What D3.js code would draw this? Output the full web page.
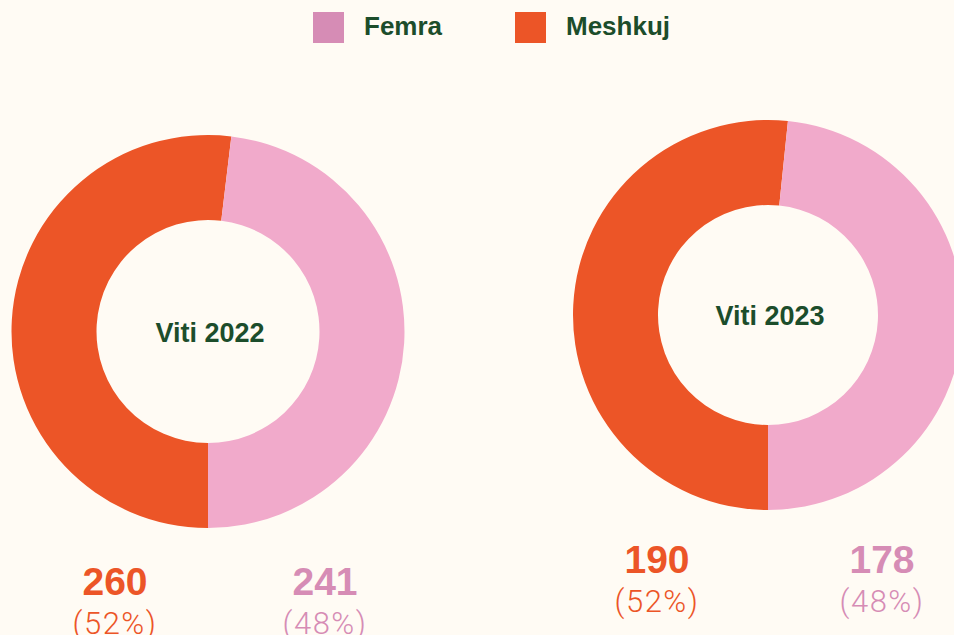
<!DOCTYPE html>
<html>
<head>
<meta charset="utf-8">
<script src="https://cdn.jsdelivr.net/npm/d3@7"></script>
<style>
  html, body { margin: 0; padding: 0; background: #fffbf4; }
  svg { display: block; }
  .bold { font-family: "Liberation Sans", Arial, sans-serif; font-weight: bold; }
  .light { font-family: Roboto, "Liberation Sans", sans-serif; font-weight: 300; }
</style>
</head>
<body>
<div id="chart"></div>
<script>
// data
var years = ["Viti 2022", "Viti 2023"];
var categories = ["Meshkuj", "Femra"];
var meshkuj = [260, 190];
var femra = [241, 178];
var legendOrder = ["Femra", "Meshkuj"];

var width = 954, height = 635;

var color = d3.scaleOrdinal()
  .domain(categories)
  .range(["#ec5527", "#f1aacb"]);

// darker pink used for text and legend
var textColor = d3.scaleOrdinal()
  .domain(categories)
  .range(["#ec5527", "#d68cb5"]);

var svg = d3.select("#chart")
  .append("svg")
    .attr("width", width)
    .attr("height", height);

svg.append("rect")
  .attr("width", width)
  .attr("height", height)
  .attr("fill", "#fffbf4");

// legend
var legendX = d3.scalePoint()
  .domain(legendOrder)
  .range([313, 515]);

var legend = svg.append("g")
  .selectAll("g")
  .data(legendOrder)
  .enter()
  .append("g")
    .attr("transform", function(d) { return "translate(" + legendX(d) + ",12)"; });

legend.append("rect")
  .attr("width", 31)
  .attr("height", 31)
  .attr("fill", function(d) { return textColor(d); });

legend.append("text")
  .attr("class", "bold")
  .attr("x", 51)
  .attr("y", 23)
  .attr("font-size", 26)
  .attr("fill", "#1c4d2b")
  .text(function(d) { return d; });

// donut layout (center, radii, label offsets)
var layout = [
  {cx: 208, cy: 331.5, r: 196.5, ri: 111.5, lx: [115, 325], ly: 595},
  {cx: 768, cy: 315, r: 195, ri: 110, lx: [657, 882], ly: 573}
];

var pie = d3.pie()
  .sort(null)
  .startAngle(Math.PI)
  .endAngle(3 * Math.PI)
  .value(function(d) { return d.value; });

years.forEach(function(year, i) {
  var L = layout[i];
  var rows = [
    {key: "Meshkuj", value: meshkuj[i]},
    {key: "Femra", value: femra[i]}
  ];
  var total = d3.sum(rows, function(d) { return d.value; });

  var arc = d3.arc()
    .innerRadius(L.ri)
    .outerRadius(L.r);

  var g = svg.append("g")
    .attr("transform", "translate(" + L.cx + "," + L.cy + ")");

  g.selectAll("path")
    .data(pie(rows))
    .enter()
    .append("path")
      .attr("d", arc)
      .attr("fill", function(d) { return color(d.data.key); });

  g.append("text")
    .attr("class", "bold")
    .attr("x", 2)
    .attr("y", 10)
    .attr("text-anchor", "middle")
    .attr("font-size", 27)
    .attr("fill", "#1c4d2b")
    .text(year);

  // numbers under the donut
  rows.forEach(function(d, j) {
    svg.append("text")
      .attr("class", "bold")
      .attr("x", L.lx[j])
      .attr("y", L.ly)
      .attr("text-anchor", "middle")
      .attr("font-size", 39)
      .attr("fill", textColor(d.key))
      .text(d.value);

    svg.append("text")
      .attr("class", "light")
      .attr("x", L.lx[j])
      .attr("y", L.ly + 39)
      .attr("text-anchor", "middle")
      .attr("font-size", 31)
      .attr("letter-spacing", 1.5)
      .attr("fill", textColor(d.key))
      .text("(" + Math.round(d.value / total * 100) + "%)");
  });
});
</script>
</body>
</html>
